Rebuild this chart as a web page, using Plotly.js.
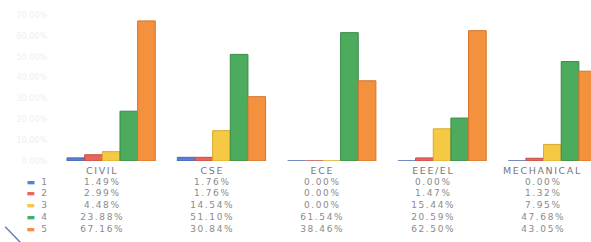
<!DOCTYPE html>
<html>
<head>
<meta charset="utf-8">
<script src="https://cdn.plot.ly/plotly-3.0.1.min.js"></script>
<style>
html,body{margin:0;padding:0;background:#fff;}
#chart{width:591px;height:242px;}
#chart .annotation-text{letter-spacing:1.6px;}
</style>
</head>
<body>
<div id="chart"></div>
<script>
const categories = ['CIVIL', 'CSE', 'ECE', 'EEE/EL', 'MECHANICAL'];
const seriesNames = ['1', '2', '3', '4', '5'];
const s1 = [1.49, 1.76, 0.00, 0.00, 0.00];
const s2 = [2.99, 1.76, 0.00, 1.47, 1.32];
const s3 = [4.48, 14.54, 0.00, 15.44, 7.95];
const s4 = [23.88, 51.10, 61.54, 20.59, 47.68];
const s5 = [67.16, 30.84, 38.46, 62.50, 43.05];
const yTicks = [0, 10, 20, 30, 40, 50, 60, 70];

const series = [s1, s2, s3, s4, s5];
const colors = ['#5b7fd2', '#e9665c', '#f6c945', '#4cab5c', '#f4913f'];
const edges  = ['#4565b0', '#c24c44', '#d9a92c', '#3a8a48', '#d2752a'];

const traces = series.map((vals, j) => ({
  type: 'bar',
  name: seriesNames[j],
  x: categories,
  y: vals,
  marker: {color: colors[j], line: {color: edges[j], width: 1}},
  hoverinfo: 'skip'
}));

const annotations = [];
const txtColor = '#8a8a8a';
const rowY = [9, 21, 32, 44, 56, 68];
categories.forEach((c, i) => {
  annotations.push({
    x: c, xref: 'x', y: 0, yref: 'paper', yshift: -rowY[0], xshift: -9,
    text: c, showarrow: false, yanchor: 'middle', xanchor: 'center',
    font: {family: 'DejaVu Sans', size: 9.5, color: '#777777'}
  });
  series.forEach((vals, j) => {
    annotations.push({
      x: c, xref: 'x', y: 0, yref: 'paper', yshift: -rowY[j + 1], xshift: -9,
      text: vals[i].toFixed(2) + '%', showarrow: false, yanchor: 'middle', xanchor: 'center',
      font: {family: 'DejaVu Sans', size: 9, color: txtColor}
    });
  });
});
seriesNames.forEach((n, j) => {
  annotations.push({
    x: 0, xref: 'paper', xshift: -29, y: 0, yref: 'paper', yshift: -rowY[j + 1],
    text: '<span style="color:' + colors[j] + '">▬</span> ' + n,
    showarrow: false, yanchor: 'middle', xanchor: 'left',
    font: {family: 'DejaVu Sans', size: 9, color: txtColor}
  });
});

const layout = {
  width: 591, height: 242,
  margin: {l: 56, r: 0, t: 15, b: 81},
  paper_bgcolor: '#ffffff', plot_bgcolor: '#ffffff',
  showlegend: false,
  barmode: 'group', bargap: 0.2, bargroupgap: 0,
  xaxis: {
    range: [-0.5, 4.35], showticklabels: false, showgrid: false, zeroline: false,
    showline: false, ticks: ''
  },
  yaxis: {
    range: [0, 70], tickvals: yTicks, ticktext: yTicks.map(v => v.toFixed(2) + '%'),
    showgrid: false, zeroline: false, showline: false, ticks: '',
    tickfont: {family: 'DejaVu Sans', size: 8, color: '#efefef'}, ticklabelstandoff: 8
  },
  annotations: annotations,
  shapes: [{
    type: 'line', xref: 'paper', yref: 'paper',
    x0: -0.095, y0: -0.45, x1: -0.066, y1: -0.56,
    line: {color: '#6a7ec4', width: 1.5}
  }]
};

Plotly.newPlot('chart', traces, layout, {staticPlot: true, displayModeBar: false});
</script>
</body>
</html>
